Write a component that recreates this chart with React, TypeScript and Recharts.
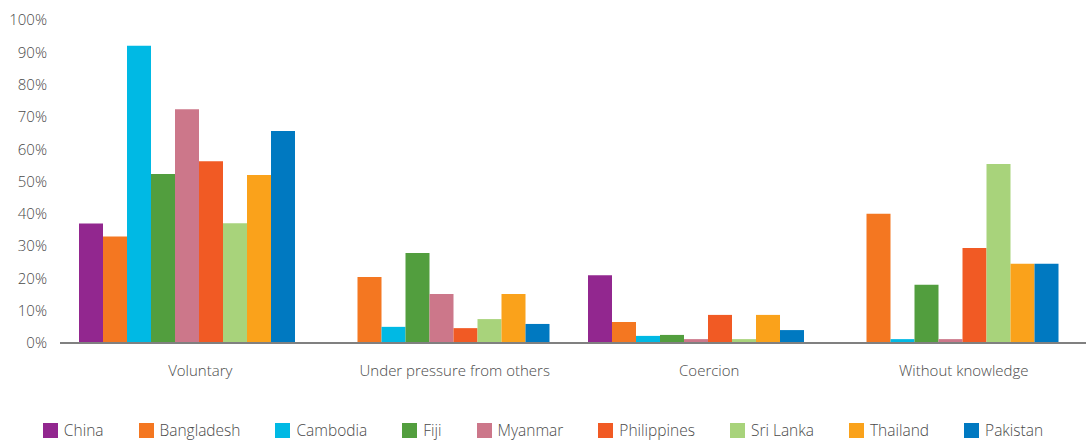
import React from 'react';
import { BarChart, Bar, XAxis, YAxis, Legend } from 'recharts';

const categories = ['Voluntary', 'Under pressure from others', 'Coercion', 'Without knowledge'];
const seriesNames = ['China', 'Bangladesh', 'Cambodia', 'Fiji', 'Myanmar', 'Philippines', 'Sri Lanka', 'Thailand', 'Pakistan'];
const colors = ['#92278F', '#F47721', '#00B9E4', '#529E3E', '#CC778A', '#F15A24', '#A8D37B', '#FAA21B', '#0079C1'];

const china = [0.37, 0, 0.21, 0];
const bangladesh = [0.33, 0.204, 0.065, 0.40];
const cambodia = [0.92, 0.05, 0.022, 0.012];
const fiji = [0.523, 0.279, 0.025, 0.18];
const myanmar = [0.724, 0.152, 0.012, 0.012];
const philippines = [0.563, 0.046, 0.087, 0.294];
const sriLanka = [0.371, 0.074, 0.012, 0.554];
const thailand = [0.52, 0.152, 0.087, 0.245];
const pakistan = [0.656, 0.059, 0.04, 0.245];

const seriesValues = [china, bangladesh, cambodia, fiji, myanmar, philippines, sriLanka, thailand, pakistan];
const yTicks = [0, 0.1, 0.2, 0.3, 0.4, 0.5, 0.6, 0.7, 0.8, 0.9, 1];

const data = categories.map((c, i) => {
  const row: Record<string, string | number> = { category: c };
  seriesNames.forEach((s, j) => {
    row[s] = seriesValues[j][i];
  });
  return row;
});

const FONT = '"Open Sans", sans-serif';
const TEXT = '#4a4a4a';

const LegendContent = () => (
  <div style={{ display: 'flex', justifyContent: 'center', alignItems: 'center', paddingTop: 33, fontFamily: FONT, fontWeight: 300, fontSize: 15.5, color: TEXT, lineHeight: '18px' }}>
    {seriesNames.map((s, i) => (
      <div key={s} style={{ display: 'flex', alignItems: 'center', marginRight: i === seriesNames.length - 1 ? 0 : 35 }}>
        <span style={{ display: 'inline-block', width: 15, height: 15, background: colors[i], marginRight: 6 }} />
        <span>{s}</span>
      </div>
    ))}
  </div>
);

export default function App() {
  return (
    <div style={{ position: 'absolute', left: 0, top: 0, width: 1086, height: 441, background: '#fff' }}>
      <BarChart
        width={1086}
        height={441}
        data={data}
        margin={{ top: 20, right: 0, left: 0, bottom: 0 }}
        barCategoryGap={19}
        barGap={0}
      >
        <XAxis
          dataKey="category"
          axisLine={{ stroke: '#808080', strokeWidth: 2 }}
          tickLine={false}
          height={45}
          padding={{ left: 0, right: 8 }}
          tick={{ fill: TEXT, fontSize: 15, fontFamily: FONT, fontWeight: 300, dx: 13, dy: 14 }}
          interval={0}
        />
        <YAxis
          domain={[0, 1]}
          ticks={yTicks}
          width={60}
          axisLine={false}
          tickLine={false}
          tick={{ fill: TEXT, fontSize: 15, fontFamily: FONT, fontWeight: 300, dx: -5 }}
          tickFormatter={(v: number) => `${Math.round(v * 100)}%`}
        />
        <Legend verticalAlign="bottom" height={53} content={<LegendContent />} />
        {seriesNames.map((s, i) => (
          <Bar key={s} dataKey={s} fill={colors[i]} isAnimationActive={false} />
        ))}
      </BarChart>
    </div>
  );
}
